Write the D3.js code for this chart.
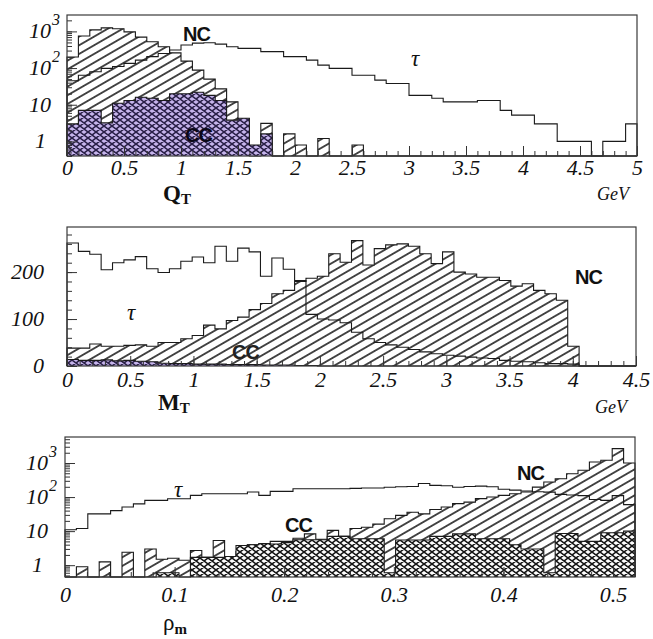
<!doctype html>
<html lang="en">
<head>
<meta charset="UTF-8">
<title>Q_T, M_T and rho_m distributions</title>
<script src="https://cdn.jsdelivr.net/npm/d3@7"></script>
<style>
	body { margin: 0; background: #fff; }
	svg text { font-family: "Liberation Serif", "DejaVu Serif", serif; fill: #111; }
	.num { font-style: italic; font-size: 22px; }
	.frame { fill: none; stroke: #3a3a3a; stroke-width: 1.2; }
	.hist { stroke: #1a1a1a; stroke-width: 1.1; }
	.tag { font-family: "Liberation Sans", Arial, sans-serif !important; font-weight: bold; font-size: 20px; letter-spacing: -1px; }
	.tau { font-style: italic; font-size: 23px; }
	.title { font-weight: bold; font-size: 23px; }
	.unit { font-style: italic; font-size: 18px; }
	.tick line { stroke: #333; }
</style>
</head>
<body>
<script>
	// 50 bins per panel, values per bin
	// --- Q_T (0..5 GeV), log scale
	var qtNC = [200, 750, 1100, 1250, 1180, 970, 700, 520, 380, 260,
		155, 88, 50, 27, 12, 2.5, 0, 3.1, 0, 1.6,
		0.8, 0, 1.2, 0, 0, 0.8, 0, 0, 0, 0,
		0, 0, 0, 0, 0, 0, 0, 0, 0, 0,
		0, 0, 0, 0, 0, 0, 0, 0, 0, 0];
	var qtCC = [3, 7, 7, 3.2, 11, 13, 16, 15, 13, 20,
		20, 22, 18, 13, 3.8, 4.3, 0.8, 1.6, 0, 0,
		0, 0, 0, 0, 0, 0, 0, 0, 0, 0,
		0, 0, 0, 0, 0, 0, 0, 0, 0, 0,
		0, 0, 0, 0, 0, 0, 0, 0, 0, 0];
	var qtTau = [45, 64, 79, 98, 110, 134, 165, 205, 250, 310,
		425, 480, 490, 450, 380, 345, 345, 280, 280, 205,
		205, 165, 120, 98, 98, 64, 64, 47, 38, 38,
		18, 18, 15, 12, 12, 12, 13, 13, 7, 5.2,
		5.2, 3, 3, 1, 1, 1, 0, 1, 1, 3];

	// --- M_T (0..4.5 GeV), linear scale
	var mtNC = [38, 38, 47, 42, 42, 44, 45, 42, 50, 50,
		58, 65, 87, 79, 97, 104, 120, 133, 154, 161,
		180, 187, 191, 239, 221, 267, 215, 250, 258, 260,
		255, 239, 218, 243, 200, 196, 189, 189, 182, 170,
		175, 161, 154, 140, 42, 0, 0, 0, 0, 0];
	var mtCC = [14, 12, 12, 13, 11, 12, 10, 9, 6, 5,
		5, 4, 4, 4, 3, 3, 3, 2, 2, 2,
		1, 1, 0, 0, 0, 0, 0, 0, 0, 0,
		0, 0, 0, 0, 0, 0, 0, 0, 0, 0,
		0, 0, 0, 0, 0, 0, 0, 0, 0, 0];
	var mtTau = [262, 244, 238, 205, 220, 226, 233, 207, 199, 207,
		223, 232, 220, 255, 223, 251, 243, 191, 230, 206,
		182, 110, 100, 98, 92, 72, 58, 50, 45, 40,
		35, 30, 26, 23, 21, 19, 17, 16, 12, 10,
		9, 7, 5, 5, 4, 0, 0, 0, 0, 0];

	// --- rho_m (0..0.52), log scale
	var rmNC = [0, 0.9, 0, 1.25, 0, 2.4, 0, 3.0, 1.5, 1.6,
		1.4, 2.7, 1.7, 5.3, 1.8, 2.5, 4, 4.2, 5, 5,
		6.2, 8.3, 5.8, 10.5, 7, 12, 13, 16, 23, 29,
		36, 32, 43, 51, 64, 71, 90, 100, 112, 125,
		141, 196, 277, 346, 485, 610, 1070, 1200, 2640, 1000];
	var rmCC = [0, 0, 0, 0, 0, 0, 0, 0, 0.6, 0.6,
		0, 1.7, 1.7, 1.7, 1.8, 3.8, 4, 4.3, 4.2, 4.6,
		5.6, 5.6, 5.6, 7, 7, 6, 6, 6, 0.6, 5.5,
		5.5, 5.5, 7, 7, 8.3, 8.3, 6, 6, 6, 4,
		3, 3, 0.6, 8.5, 8.5, 5, 5, 9, 9, 10];
	var rmTau = [11, 12, 32, 32, 40, 51, 63, 80, 80, 89,
		89, 112, 125, 125, 125, 125, 141, 112, 147, 147,
		175, 175, 175, 175, 175, 180, 185, 185, 195, 200,
		205, 250, 220, 215, 195, 205, 210, 200, 170, 160,
		150, 143, 140, 120, 115, 110, 85, 80, 110, 60];

	// tick labels
	var qtTicks = [0, 0.5, 1, 1.5, 2, 2.5, 3, 3.5, 4, 4.5, 5];
	var mtTicks = [0, 0.5, 1, 1.5, 2, 2.5, 3, 3.5, 4, 4.5];
	var rmTicks = [0, 0.1, 0.2, 0.3, 0.4, 0.5];
	var mtYTicks = [0, 100, 200];
	var logYTicks = [1, 10, 100, 1000];

	var svg = d3.select('body').append('svg')
		.attr('width', 653)
		.attr('height', 639);

	var defs = svg.append('defs');

	// single hatch for NC
	var hatch = defs.append('pattern')
		.attr('id', 'hatchNC')
		.attr('patternUnits', 'userSpaceOnUse')
		.attr('width', 14).attr('height', 7.5)
		.attr('patternTransform', 'rotate(-30)');
	hatch.append('rect').attr('width', 14).attr('height', 7.5).attr('fill', '#fff');
	hatch.append('path').attr('d', 'M0,3.75H14').attr('stroke', '#111').attr('stroke-width', 1.5);

	// cross hatch for CC, with a cell colour
	var makeMesh = function(id, cell, ink) {
		var p = defs.append('pattern')
			.attr('id', id)
			.attr('patternUnits', 'userSpaceOnUse')
			.attr('width', 8).attr('height', 6);
		p.append('rect').attr('width', 8).attr('height', 6).attr('fill', cell);
		p.append('path')
			.attr('d', 'M0,0L8,6M0,6L8,0M-1,5.25L1,6.75M7,-0.75L9,0.75M-1,0.75L1,-0.75M7,6.75L9,5.25')
			.attr('stroke', ink).attr('stroke-width', 1.5);
	};
	makeMesh('meshPurple', '#c6b4ec', '#2a2048');
	makeMesh('meshWhite', '#ffffff', '#161616');

	/**
	* step outline of a histogram, bins taken from the x scale domain
	*/
	var stepPoints = function(values, x, y, base) {
		var dom = x.domain(),
			dx = (dom[1] - dom[0]) / values.length,
			pts = [[x(dom[0]), base]];
		values.forEach(function(v, i) {
			var py = v > 0 ? Math.min(y(v), base) : base;
			pts.push([x(dom[0] + i * dx), py]);
			pts.push([x(dom[0] + (i + 1) * dx), py]);
		});
		pts.push([x(dom[1]), base]);
		return pts;
	};

	var line = d3.line();

	var drawHist = function(g, values, x, y, base, fill) {
		g.append('path')
			.attr('class', 'hist')
			.attr('d', line(stepPoints(values, x, y, base)))
			.style('fill', fill || 'none');
	};

	var tidyAxis = function(sel) {
		sel.select('.domain').remove();
		sel.attr('font-family', null).attr('font-size', null);
	};

	/**
	* one panel: frame, hatched NC, meshed CC, open tau, axes
	*/
	var drawPanel = function(p) {
		var g = svg.append('g');
		var x = d3.scaleLinear().domain(p.xDomain).range([p.left, p.right]);
		var y = (p.log ? d3.scaleLog() : d3.scaleLinear())
			.domain(p.yDomain).range([p.bottom, p.top]);

		drawHist(g, p.nc, x, y, p.bottom, 'url(#hatchNC)');
		drawHist(g, p.cc, x, y, p.bottom, 'url(#' + p.mesh + ')');
		drawHist(g, p.tau, x, y, p.bottom, null);

		// x ticks, pointing into the frame
		g.append('g').attr('transform', 'translate(0,' + p.bottom + ')')
			.call(d3.axisBottom(x).tickValues(p.xMinor).tickSizeInner(-5).tickSizeOuter(0).tickFormat(''))
			.call(tidyAxis);
		g.append('g').attr('class', 'num').attr('transform', 'translate(0,' + p.bottom + ')')
			.call(d3.axisBottom(x).tickValues(p.xTicks).tickSizeInner(-10).tickSizeOuter(0)
				.tickPadding(p.pad).tickFormat(function(d) { return String(d); }))
			.call(tidyAxis);

		// y ticks
		g.append('g').attr('transform', 'translate(' + p.left + ',0)')
			.call(d3.axisLeft(y).tickValues(p.yMinor).tickSizeInner(-5).tickSizeOuter(0).tickFormat(''))
			.call(tidyAxis);
		g.append('g').attr('transform', 'translate(' + p.left + ',0)')
			.call(d3.axisLeft(y).tickValues(p.yTicks).tickSizeInner(-10).tickSizeOuter(0).tickFormat(''))
			.call(tidyAxis);

		p.yTicks.forEach(function(v) {
			var t = g.append('text').attr('class', 'num')
				.attr('text-anchor', 'end')
				.attr('y', y(v) + 7);
			if (p.log && v >= 100) {
				t.attr('x', p.labelX).text('10');
				g.append('text').attr('class', 'num')
					.attr('x', p.labelX + 1).attr('y', y(v) - 6)
					.style('font-size', '16px')
					.text(Math.round(Math.log10(v)));
			} else if (p.log && v === 1) {
				t.attr('x', p.labelX - 5).text('1');
			} else {
				t.attr('x', p.labelX).text(v);
			}
		});

		g.append('rect').attr('class', 'frame')
			.attr('x', p.left).attr('y', p.top)
			.attr('width', p.right - p.left).attr('height', p.bottom - p.top);

		return g;
	};

	var minorTicks = function(step, lo, hi) {
		return d3.range(Math.round((hi - lo) / step) + 1).map(function(i) { return +(lo + i * step).toFixed(4); });
	};
	var logMinor = function(lo, hi) {
		var out = [];
		for (var e = -1; e <= 3; e++) {
			for (var m = 1; m <= 9; m++) {
				var v = m * Math.pow(10, e);
				if (v >= lo && v <= hi) out.push(v);
			}
		}
		return out;
	};

	// ---- Q_T
	var g1 = drawPanel({
		left: 67, right: 637, top: 15, bottom: 156,
		xDomain: [0, 5], log: true, yDomain: [0.4, 2800],
		nc: qtNC, cc: qtCC, tau: qtTau, mesh: 'meshPurple',
		xTicks: qtTicks, xMinor: minorTicks(0.1, 0, 5), pad: 3,
		yTicks: logYTicks, yMinor: logMinor(0.4, 2800), labelX: 51
	});
	g1.append('text').attr('class', 'tag').attr('x', 183).attr('y', 41).text('NC');
	g1.append('text').attr('class', 'tau').attr('x', 411).attr('y', 66).text('τ');
	g1.append('text').attr('class', 'tag').attr('x', 185).attr('y', 142).style('fill', '#0c0818').text('CC');
	var t1 = g1.append('text').attr('class', 'title').attr('x', 163).attr('y', 201).text('Q');
	t1.append('tspan').attr('dy', 3).style('font-size', '15px').text('T');
	g1.append('text').attr('class', 'unit').attr('x', 597).attr('y', 200).text('GeV');

	// ---- M_T
	var g2 = drawPanel({
		left: 67, right: 636, top: 227, bottom: 366,
		xDomain: [0, 4.5], log: false, yDomain: [0, 296],
		nc: mtNC, cc: mtCC, tau: mtTau, mesh: 'meshPurple',
		xTicks: mtTicks, xMinor: minorTicks(0.1, 0, 4.5), pad: 5,
		yTicks: mtYTicks, yMinor: minorTicks(20, 0, 280), labelX: 44
	});
	g2.append('text').attr('class', 'tau').attr('x', 127).attr('y', 320).text('τ');
	g2.append('text').attr('class', 'tag').attr('x', 232).attr('y', 359).style('fill', '#222').text('CC');
	g2.append('text').attr('class', 'tag').attr('x', 575).attr('y', 284).text('NC');
	var t2 = g2.append('text').attr('class', 'title').attr('x', 158).attr('y', 410).text('M');
	t2.append('tspan').attr('dy', 3).style('font-size', '15px').text('T');
	g2.append('text').attr('class', 'unit').attr('x', 595).attr('y', 413).text('GeV');

	// ---- rho_m
	var g3 = drawPanel({
		left: 65, right: 635, top: 437, bottom: 577,
		xDomain: [0, 0.52], log: true, yDomain: [0.45, 5800],
		nc: rmNC, cc: rmCC, tau: rmTau, mesh: 'meshWhite',
		xTicks: rmTicks, xMinor: minorTicks(0.02, 0, 0.52), pad: 9,
		yTicks: logYTicks, yMinor: logMinor(0.45, 5800), labelX: 48
	});
	g3.append('text').attr('class', 'tau').attr('x', 174).attr('y', 497).text('τ');
	g3.append('text').attr('class', 'tag').attr('x', 285).attr('y', 532).text('CC');
	g3.append('text').attr('class', 'tag').attr('x', 517).attr('y', 480).text('NC');
	var t3 = g3.append('text').attr('class', 'title').attr('x', 163).attr('y', 630).style('font-weight', 'normal').text('ρ');
	t3.append('tspan').attr('dy', 4).style('font-size', '15px').style('font-weight', 'bold').text('m');
</script>
</body>
</html>
